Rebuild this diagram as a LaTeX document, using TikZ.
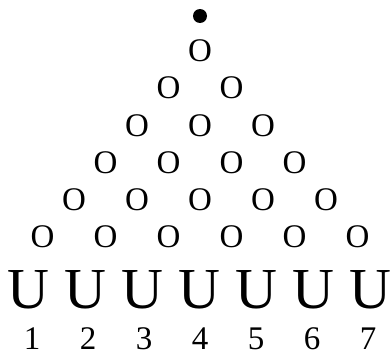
\documentclass[tikz,border=0pt]{standalone}
\usepackage{fontspec}
\setmainfont{Liberation Serif}
\begin{document}
\begin{tikzpicture}[x=1pt,y=-1pt,
  peg/.style={inner sep=0pt, font=\fontsize{33}{33}\selectfont},
  bin/.style={inner sep=0pt, font=\fontsize{58}{58}\selectfont},
  lab/.style={inner sep=0pt, font=\fontsize{33}{33}\selectfont},
  ball/.style={circle, fill=black, inner sep=0pt, minimum size=14pt}]
\useasboundingbox (0,0) rectangle (391,356);
\node[ball] (ball) at (200,16) {};
\foreach \r in {1,...,6} {
  \pgfmathtruncatemacro\n{\r-1}
  \foreach \k in {0,...,\n} {
    \node[peg] (o-\r-\k) at ({200+63*(\k-(\r-1)/2)}, {51+37.2*(\r-1)}) {O};
  }
}
\foreach \i in {1,...,7} {
  \node[bin] (u-\i) at ({28+57*(\i-1)}, 290) {U};
  \node[lab] (n-\i) at ({32+56*(\i-1)}, 338.5) {\i};
}
\end{tikzpicture}
\end{document}
